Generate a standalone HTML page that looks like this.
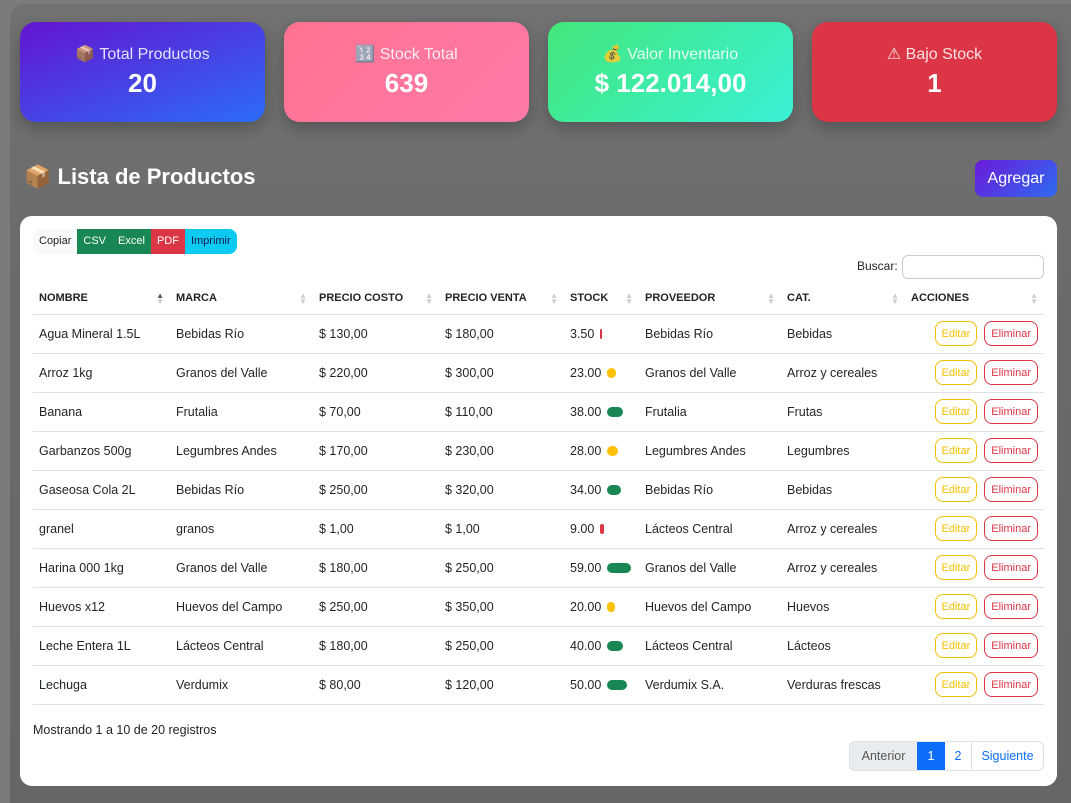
<!DOCTYPE html>
<html><head><meta charset="utf-8"><style>
*{box-sizing:border-box;margin:0;padding:0}
body{width:1071px;height:803px;background:#7b7b7b;font-family:"Liberation Sans","DejaVu Sans",sans-serif;position:relative;overflow:hidden;color:#212529}
.bg{position:absolute;left:10px;top:4px;width:1061px;height:799px;background:linear-gradient(180deg,#727272,#6a6a6a 40%,#666 100%);border-radius:14px 0 0 0}
.card{position:absolute;top:22px;width:245px;height:100px;border-radius:16px;color:#fff;text-align:center;box-shadow:0 6px 16px rgba(0,0,0,.25)}
.card .t{margin-top:22px;font-size:16px;opacity:.85}
.card .v{font-size:26px;font-weight:bold;margin-top:4px}
h2{position:absolute;left:24px;top:164px;font-size:22px;color:#fff;font-weight:bold}
.add{position:absolute;left:975px;top:160px;width:82px;height:37px;border-radius:8px;background:linear-gradient(135deg,#6a1bd8,#2f6af0);color:#fff;font-size:16px;text-align:center;line-height:37px}
.panel{position:absolute;left:20px;top:216px;width:1037px;height:570px;background:#fff;border-radius:12px}
.btns{position:absolute;left:13px;top:13px;height:25px;display:flex;font-size:11px;border-radius:8px;overflow:hidden;line-height:25px}
.btns span{padding:0 6px;color:#fff}
.lbl{position:absolute;left:837px;top:43px;font-size:12px}
.inp{position:absolute;left:882px;top:39px;width:142px;height:24px;border:1px solid #ccc;border-radius:6px}
table{position:absolute;left:13px;top:67px;width:1011px;border-collapse:collapse;font-size:12.5px}
th{font-size:11px;font-weight:bold;text-align:left;height:31px;border-bottom:1px solid #dee2e6;padding-left:6px;position:relative}
th i{position:absolute;right:6px;top:10px;font-style:normal;color:#ccc;font-size:8px;line-height:6px}
td{height:39px;border-bottom:1px solid #dee2e6;padding-left:6px}
.bar{display:inline-block;height:10px;border-radius:5px;vertical-align:-1px;margin-left:6px}
.e,.d{display:inline-flex;align-items:center;height:25px;border-radius:8px;font-size:11px;padding:0 6px;border:1px solid;vertical-align:middle}
.e{color:#f5c000;border-color:#f5c000}.d{color:#dc3545;border-color:#dc3545;margin-left:7px}
.foot{position:absolute;left:13px;top:507px;font-size:12.5px}
.pg{position:absolute;left:829px;top:525px;width:195px;height:30px;display:flex;border:1px solid #dee2e6;border-radius:6px;overflow:hidden;font-size:12.5px;line-height:28px}
.pg span{color:#0d6efd;text-align:center}
</style></head><body>
<div class="bg"></div>
<div class="card" style="left:20px;background:linear-gradient(160deg,#6414d0,#2c6cf5)"><div class="t">📦 Total Productos</div><div class="v">20</div></div>
<div class="card" style="left:284px;background:linear-gradient(135deg,#ff7390,#fd79a8)"><div class="t">🔢 Stock Total</div><div class="v">639</div></div>
<div class="card" style="left:548px;background:linear-gradient(135deg,#43e77a,#39f0d5)"><div class="t">💰 Valor Inventario</div><div class="v">$ 122.014,00</div></div>
<div class="card" style="left:812px;background:#dc3545"><div class="t">⚠ Bajo Stock</div><div class="v">1</div></div>
<h2>📦 Lista de Productos</h2>
<div class="add">Agregar</div>
<div class="panel">
<div class="btns"><span style="background:#f8f9fa;color:#212529">Copiar</span><span style="background:#198754">CSV</span><span style="background:#198754">Excel</span><span style="background:#dc3545">PDF</span><span style="background:#0dcaf0;color:#1a1a50">Imprimir</span></div>
<div class="lbl">Buscar:</div><div class="inp"></div>
<table>
<tr><th style="width:137px">NOMBRE<i style="color:#555">▲<br><span style="color:#ccc">▼</span></i></th><th style="width:143px">MARCA<i>▲<br>▼</i></th><th style="width:126px">PRECIO COSTO<i>▲<br>▼</i></th><th style="width:125px">PRECIO VENTA<i>▲<br>▼</i></th><th style="width:75px">STOCK<i>▲<br>▼</i></th><th style="width:142px">PROVEEDOR<i>▲<br>▼</i></th><th style="width:124px">CAT.<i>▲<br>▼</i></th><th>ACCIONES<i>▲<br>▼</i></th></tr>
<tr><td>Agua Mineral 1.5L</td><td>Bebidas Río</td><td>$ 130,00</td><td>$ 180,00</td><td>3.50<span class="bar" style="width:2px;background:#dc3545"></span></td><td>Bebidas Río</td><td>Bebidas</td><td style="text-align:right;padding-right:6px"><span class="e">Editar</span><span class="d">Eliminar</span></td></tr>
<tr><td>Arroz 1kg</td><td>Granos del Valle</td><td>$ 220,00</td><td>$ 300,00</td><td>23.00<span class="bar" style="width:9px;background:#ffc107"></span></td><td>Granos del Valle</td><td>Arroz y cereales</td><td style="text-align:right;padding-right:6px"><span class="e">Editar</span><span class="d">Eliminar</span></td></tr>
<tr><td>Banana</td><td>Frutalia</td><td>$ 70,00</td><td>$ 110,00</td><td>38.00<span class="bar" style="width:16px;background:#198754"></span></td><td>Frutalia</td><td>Frutas</td><td style="text-align:right;padding-right:6px"><span class="e">Editar</span><span class="d">Eliminar</span></td></tr>
<tr><td>Garbanzos 500g</td><td>Legumbres Andes</td><td>$ 170,00</td><td>$ 230,00</td><td>28.00<span class="bar" style="width:11px;background:#ffc107"></span></td><td>Legumbres Andes</td><td>Legumbres</td><td style="text-align:right;padding-right:6px"><span class="e">Editar</span><span class="d">Eliminar</span></td></tr>
<tr><td>Gaseosa Cola 2L</td><td>Bebidas Río</td><td>$ 250,00</td><td>$ 320,00</td><td>34.00<span class="bar" style="width:14px;background:#198754"></span></td><td>Bebidas Río</td><td>Bebidas</td><td style="text-align:right;padding-right:6px"><span class="e">Editar</span><span class="d">Eliminar</span></td></tr>
<tr><td>granel</td><td>granos</td><td>$ 1,00</td><td>$ 1,00</td><td>9.00<span class="bar" style="width:4px;background:#dc3545"></span></td><td>Lácteos Central</td><td>Arroz y cereales</td><td style="text-align:right;padding-right:6px"><span class="e">Editar</span><span class="d">Eliminar</span></td></tr>
<tr><td>Harina 000 1kg</td><td>Granos del Valle</td><td>$ 180,00</td><td>$ 250,00</td><td>59.00<span class="bar" style="width:24px;background:#198754"></span></td><td>Granos del Valle</td><td>Arroz y cereales</td><td style="text-align:right;padding-right:6px"><span class="e">Editar</span><span class="d">Eliminar</span></td></tr>
<tr><td>Huevos x12</td><td>Huevos del Campo</td><td>$ 250,00</td><td>$ 350,00</td><td>20.00<span class="bar" style="width:8px;background:#ffc107"></span></td><td>Huevos del Campo</td><td>Huevos</td><td style="text-align:right;padding-right:6px"><span class="e">Editar</span><span class="d">Eliminar</span></td></tr>
<tr><td>Leche Entera 1L</td><td>Lácteos Central</td><td>$ 180,00</td><td>$ 250,00</td><td>40.00<span class="bar" style="width:16px;background:#198754"></span></td><td>Lácteos Central</td><td>Lácteos</td><td style="text-align:right;padding-right:6px"><span class="e">Editar</span><span class="d">Eliminar</span></td></tr>
<tr><td>Lechuga</td><td>Verdumix</td><td>$ 80,00</td><td>$ 120,00</td><td>50.00<span class="bar" style="width:20px;background:#198754"></span></td><td>Verdumix S.A.</td><td>Verduras frescas</td><td style="text-align:right;padding-right:6px"><span class="e">Editar</span><span class="d">Eliminar</span></td></tr>
</table>
<div class="foot">Mostrando 1 a 10 de 20 registros</div>
<div class="pg"><span style="background:#e9ecef;color:#555;width:67px">Anterior</span><span style="background:#0d6efd;color:#fff;width:28px">1</span><span style="width:26px">2</span><span style="border-left:1px solid #dee2e6;flex:1">Siguiente</span></div>
</div>
</body></html>
